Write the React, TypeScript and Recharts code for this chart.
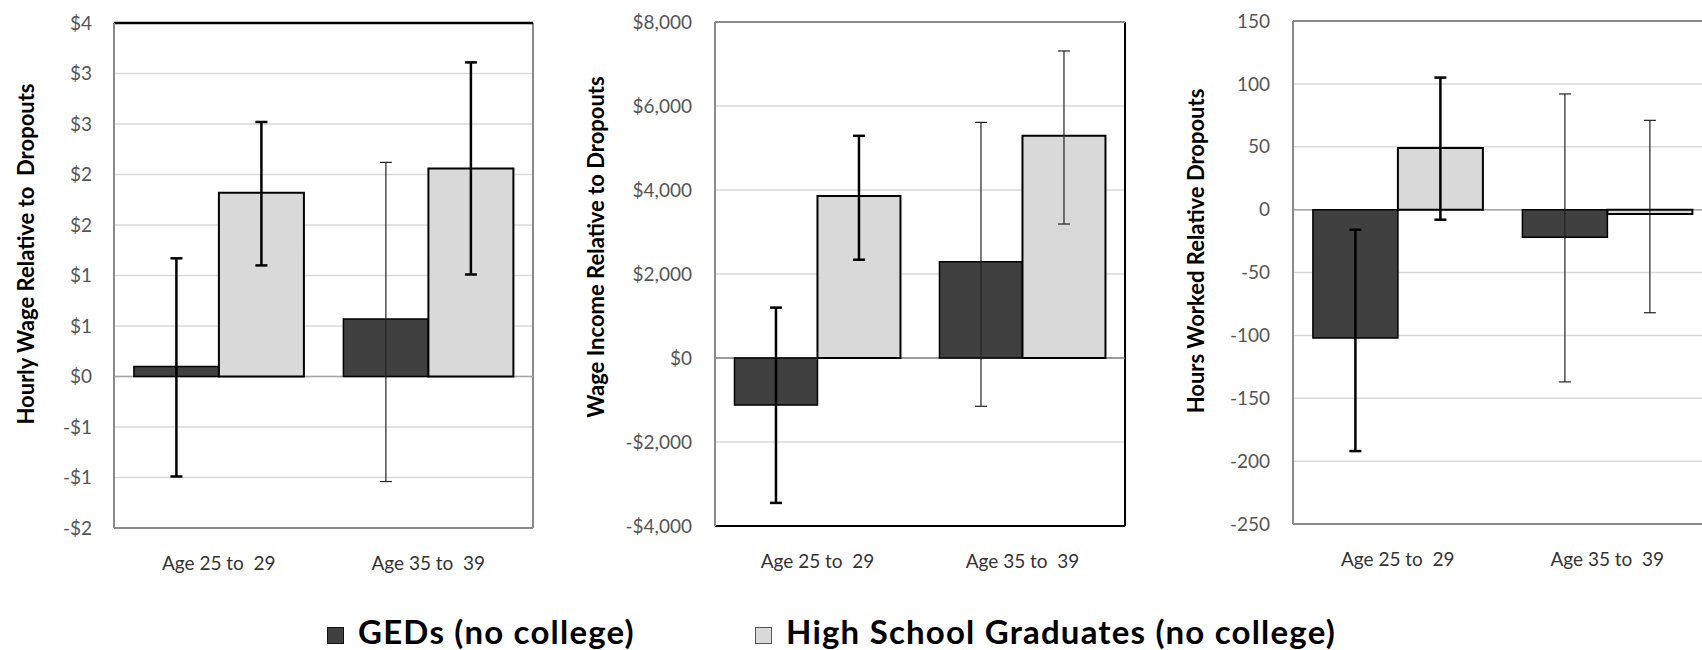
import { BarChart, Bar, XAxis, YAxis, CartesianGrid, ErrorBar, ReferenceLine, Legend } from "recharts"

const FONT = "Lato, 'Open Sans', sans-serif"

const ageGroups = ["Age 25 to\u00a0 29", "Age 35 to\u00a0 39"]

// hourly wage, $ relative to dropouts
const wageGed = [0.1, 0.57]
const wageGedLow = [-0.99, -1.04]
const wageGedHigh = [1.17, 2.12]
const wageHs = [1.82, 2.06]
const wageHsLow = [1.1, 1.01]
const wageHsHigh = [2.52, 3.11]
const wageTicks = [-1.5, -1, -0.5, 0, 0.5, 1, 1.5, 2, 2.5, 3, 3.5]

// annual wage income, $ relative to dropouts
const incomeGed = [-1120, 2290]
const incomeGedLow = [-3450, -1150]
const incomeGedHigh = [1200, 5610]
const incomeHs = [3860, 5290]
const incomeHsLow = [2340, 3190]
const incomeHsHigh = [5290, 7310]
const incomeTicks = [-4000, -2000, 0, 2000, 4000, 6000, 8000]

// annual hours worked relative to dropouts
const hoursGed = [-102, -22]
const hoursGedLow = [-192, -137]
const hoursGedHigh = [-16, 92]
const hoursHs = [49, -3.4]
const hoursHsLow = [-8, -82]
const hoursHsHigh = [105, 71]
const hoursTicks = [-250, -200, -150, -100, -50, 0, 50, 100, 150]

const GED_NAME = "GEDs (no college)"
const HS_NAME = "High School Graduates (no college)"

type Span = [number, number]
interface Row {
  age: string
  ged: number
  hs: number
  gedErr?: Span
  gedErrThin?: Span
  hsErr?: Span
  hsErrThin?: Span
}

function buildRows(
  ged: number[], gedLow: number[], gedHigh: number[],
  hs: number[], hsLow: number[], hsHigh: number[],
  thinGed: boolean[], thinHs: boolean[],
): Row[] {
  return ageGroups.map((age, i) => {
    const gedSpan: Span = [ged[i] - gedLow[i], gedHigh[i] - ged[i]]
    const hsSpan: Span = [hs[i] - hsLow[i], hsHigh[i] - hs[i]]
    return {
      age,
      ged: ged[i],
      hs: hs[i],
      gedErr: thinGed[i] ? undefined : gedSpan,
      gedErrThin: thinGed[i] ? gedSpan : undefined,
      hsErr: thinHs[i] ? undefined : hsSpan,
      hsErrThin: thinHs[i] ? hsSpan : undefined,
    }
  })
}

const dollars = (v: number) => (v < 0 ? "-$" : "$") + Math.round(Math.abs(v))
const dollarsK = (v: number) => (v < 0 ? "-$" : "$") + Math.abs(v).toLocaleString("en-US")

const GRAY = "#8a8a8a"

const renderLegend = (props: any) => {
  const payload = props.payload || []
  return (
    <div
      style={{
        display: "flex",
        fontFamily: FONT,
        fontWeight: 700,
        fontSize: 33,
        letterSpacing: 1.2,
        lineHeight: "36px",
        color: "#000",
        whiteSpace: "nowrap",
      }}
    >
      {payload.map((entry: any, i: number) => (
        <div key={i} style={{ display: "flex", alignItems: "baseline", width: i === 0 ? 428 : undefined }}>
          <span
            style={{
              display: "inline-block",
              width: 15,
              height: 15,
              background: entry.color,
              border: `1px solid ${i === 0 ? "#111" : "#555"}`,
              marginRight: 14,
            }}
          />
          {entry.value}
        </div>
      ))}
    </div>
  )
}

interface PanelProps {
  rows: Row[]
  domain: [number, number]
  ticks: number[]
  format: (v: number) => string
  title: string
  titleX: number
  titleY: number
  left: number
  width: number
  yWidth: number
  top: number
  bottom: number
  tickGap: number
  border: { top: string; right: string; bottom: string; left: string }
  zero: string
  legend?: boolean
}

function Panel(p: PanelProps) {
  const tickStyle = { fill: "#555", fontSize: 19, fontFamily: FONT }
  return (
    <div style={{ position: "absolute", left: p.left, top: 0 }}>
      <BarChart
        width={p.width}
        height={600}
        data={p.rows}
        margin={{ top: p.top, right: 10, bottom: 0, left: 0 }}
        barCategoryGap="9.5%"
        barGap={0}
      >
        <CartesianGrid vertical={false} stroke="#d9d9d9" strokeWidth={1.5} />
        {/* plot frame, left and right sides */}
        <CartesianGrid
          horizontal={false}
          stroke={p.border.left}
          strokeWidth={2}
          verticalCoordinatesGenerator={({ offset }: any) => [offset.left]}
        />
        <CartesianGrid
          horizontal={false}
          stroke={p.border.right}
          strokeWidth={2}
          verticalCoordinatesGenerator={({ offset }: any) => [offset.left + offset.width]}
        />
        <XAxis
          dataKey="age"
          interval={0}
          height={600 - p.bottom}
          tickLine={false}
          tickSize={0}
          tickMargin={29}
          axisLine={{ stroke: p.border.bottom, strokeWidth: 2 }}
          tick={{ fill: "#333", fontSize: 19, fontFamily: FONT }}
        />
        <YAxis
          domain={p.domain}
          ticks={p.ticks}
          allowDataOverflow
          interval={0}
          width={p.yWidth}
          tickFormatter={p.format}
          tickLine={false}
          tickSize={0}
          tickMargin={p.tickGap}
          axisLine={{ stroke: p.border.left, strokeWidth: 2 }}
          tick={tickStyle}
          label={() => (
            <text
              x={p.titleX}
              y={p.titleY}
              transform={`rotate(-90, ${p.titleX}, ${p.titleY})`}
              textAnchor="middle"
              dominantBaseline="central"
              fontFamily={FONT}
              fontWeight={700}
              fontSize={22}
              fill="#000"
            >
              {p.title}
            </text>
          )}
        />
        <ReferenceLine y={0} stroke={p.zero} strokeWidth={1.5} zIndex={-50} />
        <Bar dataKey="ged" name={GED_NAME} fill="#404040" stroke="#000" strokeWidth={1.5} isAnimationActive={false}>
          <ErrorBar dataKey="gedErr" direction="y" width={6} stroke="#000" strokeWidth={2.5} isAnimationActive={false} />
          <ErrorBar dataKey="gedErrThin" direction="y" width={6} stroke="#222" strokeWidth={1.2} isAnimationActive={false} />
        </Bar>
        <Bar dataKey="hs" name={HS_NAME} fill="#d9d9d9" stroke="#000" strokeWidth={2} isAnimationActive={false}>
          <ErrorBar dataKey="hsErr" direction="y" width={6} stroke="#000" strokeWidth={2.5} isAnimationActive={false} />
          <ErrorBar dataKey="hsErrThin" direction="y" width={6} stroke="#222" strokeWidth={1.2} isAnimationActive={false} />
        </Bar>
        <ReferenceLine y={p.domain[1]} stroke={p.border.top} strokeWidth={p.border.top === "#000" ? 2.5 : 2} />
        {p.legend && (
          <Legend
            layout="horizontal"
            verticalAlign="middle"
            align="center"
            content={renderLegend}
            wrapperStyle={{ left: 327, top: 613, width: 1200, height: 37 }}
          />
        )}
      </BarChart>
    </div>
  )
}

export default function App() {
  const wageRows = buildRows(wageGed, wageGedLow, wageGedHigh, wageHs, wageHsLow, wageHsHigh, [false, true], [false, false])
  const incomeRows = buildRows(incomeGed, incomeGedLow, incomeGedHigh, incomeHs, incomeHsLow, incomeHsHigh, [false, true], [false, true])
  const hoursRows = buildRows(hoursGed, hoursGedLow, hoursGedHigh, hoursHs, hoursHsLow, hoursHsHigh, [false, true], [false, true])

  return (
    <div style={{ position: "fixed", left: 0, top: 0, width: 1702, height: 650, overflow: "hidden", background: "#fff" }}>
      <Panel
        rows={wageRows}
        domain={[-1.5, 3.5]}
        ticks={wageTicks}
        format={dollars}
        title={"Hourly Wage Relative to\u00a0 Dropouts"}
        titleX={25}
        titleY={254}
        left={0}
        width={543}
        yWidth={114}
        top={23}
        bottom={528}
        tickGap={22}
        border={{ top: "#000", right: GRAY, bottom: GRAY, left: GRAY }}
        zero="#a6a6a6"
        legend
      />
      <Panel
        rows={incomeRows}
        domain={[-4000, 8000]}
        ticks={incomeTicks}
        format={dollarsK}
        title="Wage Income Relative to Dropouts"
        titleX={30}
        titleY={247}
        left={565}
        width={570}
        yWidth={150}
        top={22}
        bottom={526}
        tickGap={23}
        border={{ top: GRAY, right: "#000", bottom: "#000", left: GRAY }}
        zero="#808080"
      />
      <Panel
        rows={hoursRows}
        domain={[-250, 150]}
        ticks={hoursTicks}
        format={(v) => String(v)}
        title="Hours Worked Relative Dropouts"
        titleX={52}
        titleY={251}
        left={1143}
        width={579}
        yWidth={150}
        top={21}
        bottom={524}
        tickGap={23}
        border={{ top: GRAY, right: GRAY, bottom: GRAY, left: GRAY }}
        zero="#a6a6a6"
      />
    </div>
  )
}
